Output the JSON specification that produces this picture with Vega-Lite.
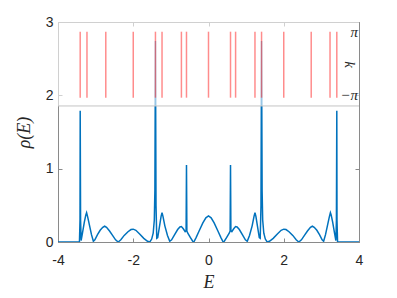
{
  "$schema": "https://vega.github.io/schema/vega-lite/v6.json",
  "width": 301,
  "height": 220,
  "autosize": {"type": "none"},
  "padding": {"left": 58, "top": 22, "right": 38, "bottom": 56},
  "background": "white",
  "config": {
    "view": {"stroke": "#8a8a8a", "strokeWidth": 1},
    "axis": {
      "labelFont": "Liberation Sans",
      "labelFontSize": 14,
      "labelColor": "#262626",
      "titleFont": "Liberation Serif",
      "titleFontStyle": "italic",
      "titleFontWeight": "normal",
      "titleFontSize": 18,
      "titleColor": "#262626",
      "domainColor": "#8a8a8a",
      "tickColor": "#8a8a8a",
      "grid": false
    }
  },
  "datasets": {
    "dos": [
      {"E": -4.0, "rho": 0}, {"E": -3.43, "rho": 0}, {"E": -3.415, "rho": 0.3}, {"E": -3.41, "rho": 1.79}, {"E": -3.4, "rho": 0.3},
      {"E": -3.385, "rho": 0.02}, {"E": -3.35, "rho": 0.12}, {"E": -3.3, "rho": 0.27}, {"E": -3.26, "rho": 0.37}, {"E": -3.24, "rho": 0.4},
      {"E": -3.21, "rho": 0.34}, {"E": -3.16, "rho": 0.22}, {"E": -3.11, "rho": 0.1}, {"E": -3.06, "rho": 0.01}, {"E": -3.02, "rho": 0.03},
      {"E": -2.95, "rho": 0.1}, {"E": -2.88, "rho": 0.16}, {"E": -2.81, "rho": 0.2}, {"E": -2.76, "rho": 0.215}, {"E": -2.71, "rho": 0.2},
      {"E": -2.63, "rho": 0.15}, {"E": -2.55, "rho": 0.09}, {"E": -2.47, "rho": 0.03}, {"E": -2.4, "rho": 0.0}, {"E": -2.33, "rho": 0.03},
      {"E": -2.24, "rho": 0.09}, {"E": -2.14, "rho": 0.14}, {"E": -2.06, "rho": 0.17}, {"E": -2.0, "rho": 0.175}, {"E": -1.93, "rho": 0.16},
      {"E": -1.83, "rho": 0.11}, {"E": -1.72, "rho": 0.05}, {"E": -1.62, "rho": 0.01}, {"E": -1.56, "rho": 0.0}, {"E": -1.51, "rho": 0.04},
      {"E": -1.47, "rho": 0.12}, {"E": -1.44, "rho": 0.3}, {"E": -1.425, "rho": 0.7}, {"E": -1.41, "rho": 2.74}, {"E": -1.395, "rho": 0.5},
      {"E": -1.375, "rho": 0.05}, {"E": -1.35, "rho": 0.06}, {"E": -1.3, "rho": 0.22}, {"E": -1.26, "rho": 0.35}, {"E": -1.235, "rho": 0.4},
      {"E": -1.21, "rho": 0.35}, {"E": -1.16, "rho": 0.22}, {"E": -1.09, "rho": 0.09}, {"E": -1.03, "rho": 0.01}, {"E": -0.98, "rho": 0.03},
      {"E": -0.9, "rho": 0.1}, {"E": -0.82, "rho": 0.17}, {"E": -0.76, "rho": 0.205}, {"E": -0.72, "rho": 0.21}, {"E": -0.67, "rho": 0.18},
      {"E": -0.62, "rho": 0.14}, {"E": -0.595, "rho": 0.15}, {"E": -0.585, "rho": 1.05}, {"E": -0.575, "rho": 0.15}, {"E": -0.55, "rho": 0.12},
      {"E": -0.48, "rho": 0.06}, {"E": -0.42, "rho": 0.01}, {"E": -0.39, "rho": 0.0}, {"E": -0.33, "rho": 0.06}, {"E": -0.25, "rho": 0.15},
      {"E": -0.15, "rho": 0.26}, {"E": -0.07, "rho": 0.33}, {"E": 0.0, "rho": 0.355},
      {"E": 0.07, "rho": 0.33}, {"E": 0.15, "rho": 0.26}, {"E": 0.25, "rho": 0.15}, {"E": 0.33, "rho": 0.06}, {"E": 0.39, "rho": 0.0},
      {"E": 0.42, "rho": 0.01}, {"E": 0.48, "rho": 0.06}, {"E": 0.55, "rho": 0.12}, {"E": 0.575, "rho": 0.15}, {"E": 0.585, "rho": 1.05},
      {"E": 0.595, "rho": 0.15}, {"E": 0.62, "rho": 0.14}, {"E": 0.67, "rho": 0.18}, {"E": 0.72, "rho": 0.21}, {"E": 0.76, "rho": 0.205},
      {"E": 0.82, "rho": 0.17}, {"E": 0.9, "rho": 0.1}, {"E": 0.98, "rho": 0.03}, {"E": 1.03, "rho": 0.01}, {"E": 1.09, "rho": 0.09},
      {"E": 1.16, "rho": 0.22}, {"E": 1.21, "rho": 0.35}, {"E": 1.235, "rho": 0.4}, {"E": 1.26, "rho": 0.35}, {"E": 1.3, "rho": 0.22},
      {"E": 1.35, "rho": 0.06}, {"E": 1.375, "rho": 0.05}, {"E": 1.395, "rho": 0.5}, {"E": 1.41, "rho": 2.74}, {"E": 1.425, "rho": 0.7},
      {"E": 1.44, "rho": 0.3}, {"E": 1.47, "rho": 0.12}, {"E": 1.51, "rho": 0.04}, {"E": 1.56, "rho": 0.0}, {"E": 1.62, "rho": 0.01},
      {"E": 1.72, "rho": 0.05}, {"E": 1.83, "rho": 0.11}, {"E": 1.93, "rho": 0.16}, {"E": 2.0, "rho": 0.175}, {"E": 2.06, "rho": 0.17},
      {"E": 2.14, "rho": 0.14}, {"E": 2.24, "rho": 0.09}, {"E": 2.33, "rho": 0.03}, {"E": 2.4, "rho": 0.0}, {"E": 2.47, "rho": 0.03},
      {"E": 2.55, "rho": 0.09}, {"E": 2.63, "rho": 0.15}, {"E": 2.71, "rho": 0.2}, {"E": 2.76, "rho": 0.215}, {"E": 2.81, "rho": 0.2},
      {"E": 2.88, "rho": 0.16}, {"E": 2.95, "rho": 0.1}, {"E": 3.02, "rho": 0.03}, {"E": 3.06, "rho": 0.01}, {"E": 3.11, "rho": 0.1},
      {"E": 3.16, "rho": 0.22}, {"E": 3.21, "rho": 0.34}, {"E": 3.24, "rho": 0.4}, {"E": 3.26, "rho": 0.37}, {"E": 3.3, "rho": 0.27},
      {"E": 3.35, "rho": 0.12}, {"E": 3.385, "rho": 0.02}, {"E": 3.4, "rho": 0.3}, {"E": 3.41, "rho": 1.79}, {"E": 3.415, "rho": 0.3},
      {"E": 3.43, "rho": 0}, {"E": 4.0, "rho": 0}
    ],
    "levels": [
      {"E": -3.41}, {"E": -3.23}, {"E": -2.73}, {"E": -2.0}, {"E": -1.41}, {"E": -1.235}, {"E": -0.72}, {"E": -0.585}, {"E": 0.0},
      {"E": 0.585}, {"E": 0.72}, {"E": 1.235}, {"E": 1.41}, {"E": 2.0}, {"E": 2.73}, {"E": 3.23}, {"E": 3.41}
    ],
    "klabels": [
      {"label": "π", "k": 2.86},
      {"label": "−π", "k": 2.0}
    ]
  },
  "resolve": {"axis": {"x": "independent", "y": "independent"}},
  "layer": [
    {
      "data": {"name": "dos"},
      "mark": {"type": "line", "color": "#0072BD", "strokeWidth": 1.5, "clip": true},
      "encoding": {
        "x": {
          "field": "E", "type": "quantitative",
          "scale": {"domain": [-4, 4], "nice": false},
          "axis": {"orient": "bottom", "values": [-4, -2, 0, 2, 4], "format": "d", "labelExpr": "replace(datum.label, '−', '-')", "tickSize": -4, "labelPadding": 15, "title": "E", "titlePadding": 6, "labelFlush": false}
        },
        "y": {
          "field": "rho", "type": "quantitative",
          "scale": {"domain": [0, 3], "nice": false},
          "axis": {"orient": "left", "values": [0, 1, 2, 3], "format": "d", "tickSize": -4, "labelPadding": 9, "title": "ρ(E)", "titlePadding": 12}
        }
      }
    },
    {
      "data": {"values": [{}]},
      "mark": {"type": "rect", "color": "white", "opacity": 0.6},
      "encoding": {
        "x": {"datum": -4, "type": "quantitative", "axis": {"orient": "top", "values": [-4, -2, 0, 2, 4], "labels": false, "domain": false, "tickSize": -4, "title": null}},
        "x2": {"datum": 4},
        "y": {"datum": 1.855, "type": "quantitative", "axis": {"orient": "right", "values": [0, 1, 2, 3], "labels": false, "domain": false, "tickSize": -4, "title": null}},
        "y2": {"datum": 3}
      }
    },
    {
      "data": {"name": "levels"},
      "mark": {"type": "rule", "color": "#ff0000", "opacity": 0.45, "strokeWidth": 1.5},
      "encoding": {
        "x": {"field": "E", "type": "quantitative", "axis": null},
        "y": {"datum": 1.968, "type": "quantitative", "axis": null},
        "y2": {"datum": 2.868}
      }
    },
    {
      "data": {"values": [{}]},
      "mark": {"type": "rule", "color": "#c4c4c4", "strokeWidth": 1},
      "encoding": {
        "y": {"datum": 1.855, "type": "quantitative", "axis": null}
      }
    },
    {
      "data": {"name": "klabels"},
      "mark": {"type": "text", "align": "right", "baseline": "middle", "dx": -1, "font": "Liberation Serif", "fontStyle": "italic", "fontSize": 15, "color": "#262626"},
      "encoding": {
        "x": {"datum": 4, "type": "quantitative", "axis": null},
        "y": {"field": "k", "type": "quantitative", "axis": null},
        "text": {"field": "label"}
      }
    },
    {
      "data": {"values": [{"label": "k", "k": 2.42}]},
      "mark": {"type": "text", "align": "center", "baseline": "middle", "angle": 90, "dx": 0, "dy": 9, "font": "Liberation Serif", "fontStyle": "italic", "fontSize": 15, "color": "#262626"},
      "encoding": {
        "x": {"datum": 4, "type": "quantitative", "axis": null},
        "y": {"field": "k", "type": "quantitative", "axis": null},
        "text": {"field": "label"}
      }
    }
  ]
}
